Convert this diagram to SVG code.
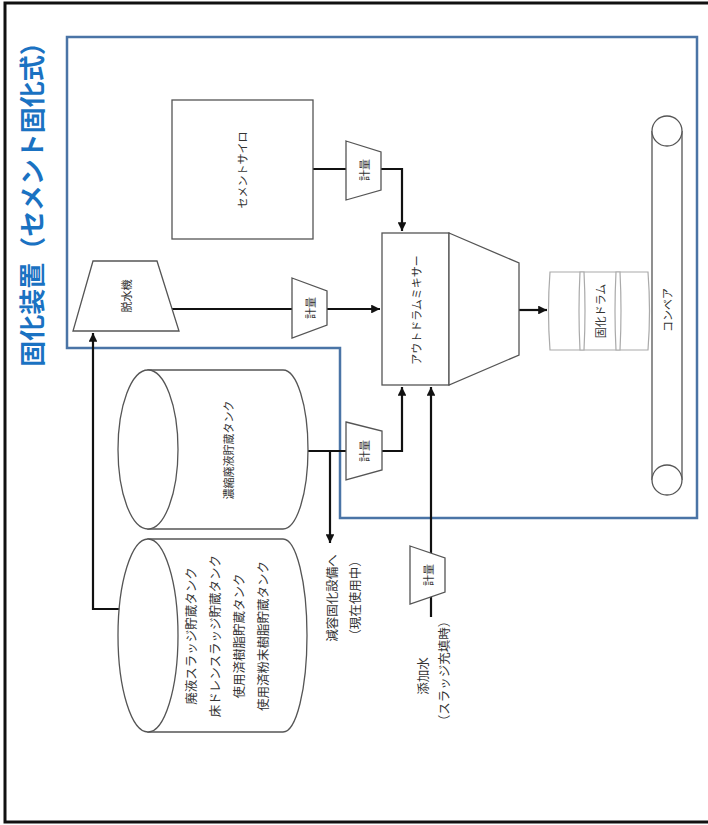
<svg xmlns="http://www.w3.org/2000/svg" width="708" height="825" viewBox="0 0 708 825">
<style>
.shape{fill:#fff;stroke:#555;stroke-width:1.3}
.drum{fill:#fff;stroke:#aaa;stroke-width:1.2}
.conn{fill:none;stroke:#111;stroke-width:2.2}
.lbl{font-family:"Noto Sans CJK JP","Noto Sans",sans-serif;font-size:12.5px;fill:#333;text-anchor:middle;dominant-baseline:central}
.sm{font-size:11px}
.title{font-family:"Noto Sans CJK JP","Noto Sans",sans-serif;font-size:26px;font-weight:bold;fill:#1a72c2;text-anchor:middle;dominant-baseline:central}
</style>
<defs>
<marker id="ah" viewBox="0 0 10 10" refX="10" refY="5" markerWidth="4" markerHeight="4" orient="auto" markerUnits="strokeWidth">
<path d="M0,0 L10,5 L0,10 Z" fill="#111"/>
</marker>
</defs>
<rect x="0" y="0" width="708" height="825" fill="#fff"/>
<rect x="5" y="3" width="712" height="819" fill="none" stroke="#111" stroke-width="3"/>
<text class="title" transform="rotate(-90 30 198)" x="30" y="198">固化装置（セメント固化式）</text>
<path d="M67,37 H697 V518 H340 V348 H67 Z" fill="none" stroke="#4a74a6" stroke-width="2.5"/>

<g id="connectors">
<path class="conn" d="M143,609 H93 V333" marker-end="url(#ah)"/>
<path class="conn" d="M171,309 H380" marker-end="url(#ah)"/>
<path class="conn" d="M313,169 H402 V231" marker-end="url(#ah)"/>
<path class="conn" d="M308,451 H402 V387" marker-end="url(#ah)"/>
<path class="conn" d="M330,451 V543" marker-end="url(#ah)"/>
<path class="conn" d="M431,617 V387" marker-end="url(#ah)"/>
<path class="conn" d="M519,310 H547" marker-end="url(#ah)"/>
</g>

<g id="dewater">
<path class="shape" d="M93,261 H157 L179,331 H73 Z"/>
<text class="lbl sm" transform="rotate(-90 126 296)" x="126" y="296">脱水機</text>
</g>
<g id="meter-dewater">
<path class="shape" d="M292,278 L327,291 V325 L292,338 Z"/>
<text class="lbl sm" transform="rotate(-90 310 308)" x="310" y="308">計量</text>
</g>
<g id="cement-silo">
<rect class="shape" x="172" y="100" width="141" height="139"/>
<text class="lbl sm" transform="rotate(-90 242 170)" x="242" y="170">セメントサイロ</text>
</g>
<g id="meter-cement">
<path class="shape" d="M346,141 L381,152 V190 L346,200 Z"/>
<text class="lbl sm" transform="rotate(-90 364 170)" x="364" y="170">計量</text>
</g>
<g id="mixer">
<rect class="shape" x="382" y="233" width="67" height="152"/>
<path class="shape" d="M449,233 L519,263 V355 L449,385 Z"/>
<text class="lbl sm" transform="rotate(-90 416 310)" x="416" y="310">アウトドラムミキサー</text>
</g>
<g id="conveyor">
<path class="shape" d="M652,131 V480 M682,131 V480"/>
<circle class="shape" cx="667" cy="131" r="15"/>
<circle class="shape" cx="667" cy="480" r="15"/>
<text class="lbl sm" transform="rotate(-90 667 310)" x="667" y="310">コンベア</text>
</g>
<g id="drum">
<path class="drum" d="M550,272 H648 Q651,311 648,350 H550 Q547,311 550,272 Z"/>
<path class="drum" d="M580,272 Q578,311 580,350 H584 Q586,311 584,272 Z"/>
<path class="drum" d="M616,272 Q614,311 616,350 H620 Q622,311 620,272 Z"/>
<text class="lbl sm" transform="rotate(-90 600 311)" x="600" y="311">固化ドラム</text>
</g>
<g id="conc-tank">
<path class="shape" d="M148,370 H283 A25,79.5 0 0 1 283,529 H148 Z"/>
<ellipse class="shape" cx="148" cy="449.5" rx="30" ry="79.5"/>
<text class="lbl sm" transform="rotate(-90 228 450)" x="228" y="450">濃縮廃液貯蔵タンク</text>
</g>
<g id="meter-conc">
<path class="shape" d="M346,422 L382,431 V470 L346,480 Z"/>
<text class="lbl sm" transform="rotate(-90 364 451)" x="364" y="451">計量</text>
</g>
<g id="sludge-tank">
<path class="shape" d="M148,539 H283 A24,96.5 0 0 1 283,732 H148 Z"/>
<ellipse class="shape" cx="148" cy="635.5" rx="30" ry="96.5"/>
<text class="lbl" transform="rotate(-90 190 636)" x="190" y="636">廃液スラッジ貯蔵タンク</text>
<text class="lbl" transform="rotate(-90 214 636)" x="214" y="636">床ドレンスラッジ貯蔵タンク</text>
<text class="lbl" transform="rotate(-90 238 636)" x="238" y="636">使用済樹脂貯蔵タンク</text>
<text class="lbl" transform="rotate(-90 262 636)" x="262" y="636">使用済粉末樹脂貯蔵タンク</text>
</g>
<g id="to-volume-reduction">
<text class="lbl" transform="rotate(-90 331 598)" x="331" y="598">減容固化設備へ</text>
<text class="lbl" transform="rotate(-90 354 598)" x="354" y="598">（現在使用中）</text>
</g>
<g id="meter-water">
<path class="shape" d="M410,546 L445,558 V592 L410,604 Z"/>
<text class="lbl sm" transform="rotate(-90 428 575)" x="428" y="575">計量</text>
</g>
<g id="water">
<text class="lbl" transform="rotate(-90 422 676)" x="422" y="676">添加水</text>
<text class="lbl" transform="rotate(-90 443 671)" x="443" y="671">（スラッジ充填時）</text>
</g>
</svg>
